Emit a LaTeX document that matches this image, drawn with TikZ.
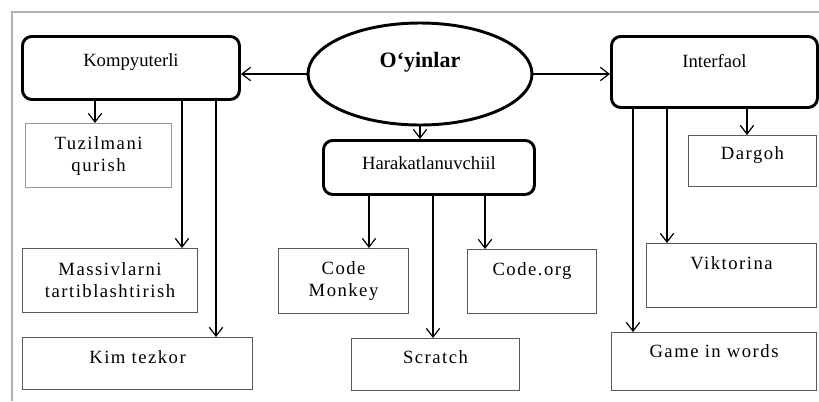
\documentclass[tikz,border=0pt]{standalone}
\usepackage{fontspec}
\setmainfont{Liberation Serif}
\newfontfamily\spaced[LetterSpace=8]{Liberation Serif}
\usetikzlibrary{arrows.meta,shapes.geometric,positioning}

\tikzset{
    group/.style={draw, rectangle, rounded corners=7pt, line width=2.2pt,
        inner sep=0pt, anchor=north west, font=\fontsize{14}{16.5}\selectfont},
    game/.style={draw=black!65, rectangle, line width=0.8pt, inner sep=0pt,
        anchor=north west, align=center, font=\spaced\fontsize{14}{16.5}\selectfont},
    link/.style={-{Straight Barb[length=6.5pt,width=10pt]}, line width=0.9pt},
}

\begin{document}
\begin{tikzpicture}[x=0.75pt, y=-0.75pt]
    \useasboundingbox (0,0) rectangle (819,401);
    \draw[black!30, line width=0.8pt] (819,12) -- (12,12) -- (12,401);

    %% main node
    \node[draw, ellipse, line width=2.2pt, minimum width=168pt, minimum height=76.5pt,
        inner sep=0pt, text height=11pt, text depth=21.5pt,
        font=\bfseries\fontsize{16.5}{18}\selectfont] (oyin) at (420,74) {O‘yinlar};

    %% groups
    \node[group, minimum width=162.75pt, text height=22.5pt, text depth=24.75pt] (komp) at (21,35) {Kompyuterli};
    \node[group, minimum width=154.5pt, text height=23.25pt, text depth=30pt] (inter) at (610,35) {Interfaol};
    \node[group, minimum width=158.25pt, text height=21.75pt, text depth=18.75pt] (harak) at (322,139) {Harakatlanuvchiil};

    %% games
    \node[game, draw=black!40, minimum width=109.5pt, minimum height=48pt] (tuz) at (25,123) {Tuzilmani\\qurish};
    \node[game, minimum width=131.25pt, minimum height=48pt] (mas) at (22,248) {Massivlarni\\tartiblashtirish};
    \node[game, minimum width=172.5pt, text height=19.5pt, text depth=19.5pt] (kim) at (22,337) {Kim tezkor};
    \node[game, minimum width=97.5pt, minimum height=48.75pt] (monkey) at (278,248) {Code\\Monkey};
    \node[game, minimum width=126pt, text height=18.75pt, text depth=20.25pt] (scratch) at (351,338) {Scratch};
    \node[game, minimum width=96.75pt, text height=19.5pt, text depth=28.5pt] (codeorg) at (467,249) {Code.org};
    \node[game, minimum width=96pt, text height=18pt, text depth=20.25pt] (dargoh) at (688,135) {Dargoh};
    \node[game, minimum width=127.5pt, text height=19.5pt, text depth=28.5pt] (vikt) at (646,243) {Viktorina};
    \node[game, minimum width=153.75pt, text height=18.75pt, text depth=24.75pt] (words) at (611,332) {Game in words};

    \draw[link] (oyin.west) -- (oyin.west -| komp.east);
    \draw[link] (oyin.east) -- (oyin.east -| inter.west);
    \draw[link] (oyin.south) -- (oyin.south |- harak.north);

    \foreach \x/\t in {95/tuz, 182/mas, 216/kim}
        \draw[link] (\x,0 |- komp.south) -- (\x,0 |- \t.north);
    \foreach \x/\t in {369/monkey, 433/scratch, 485/codeorg}
        \draw[link] (\x,0 |- harak.south) -- (\x,0 |- \t.north);
    \foreach \x/\t in {747/dargoh, 667/vikt, 633/words}
        \draw[link] (\x,0 |- inter.south) -- (\x,0 |- \t.north);
\end{tikzpicture}
\end{document}
